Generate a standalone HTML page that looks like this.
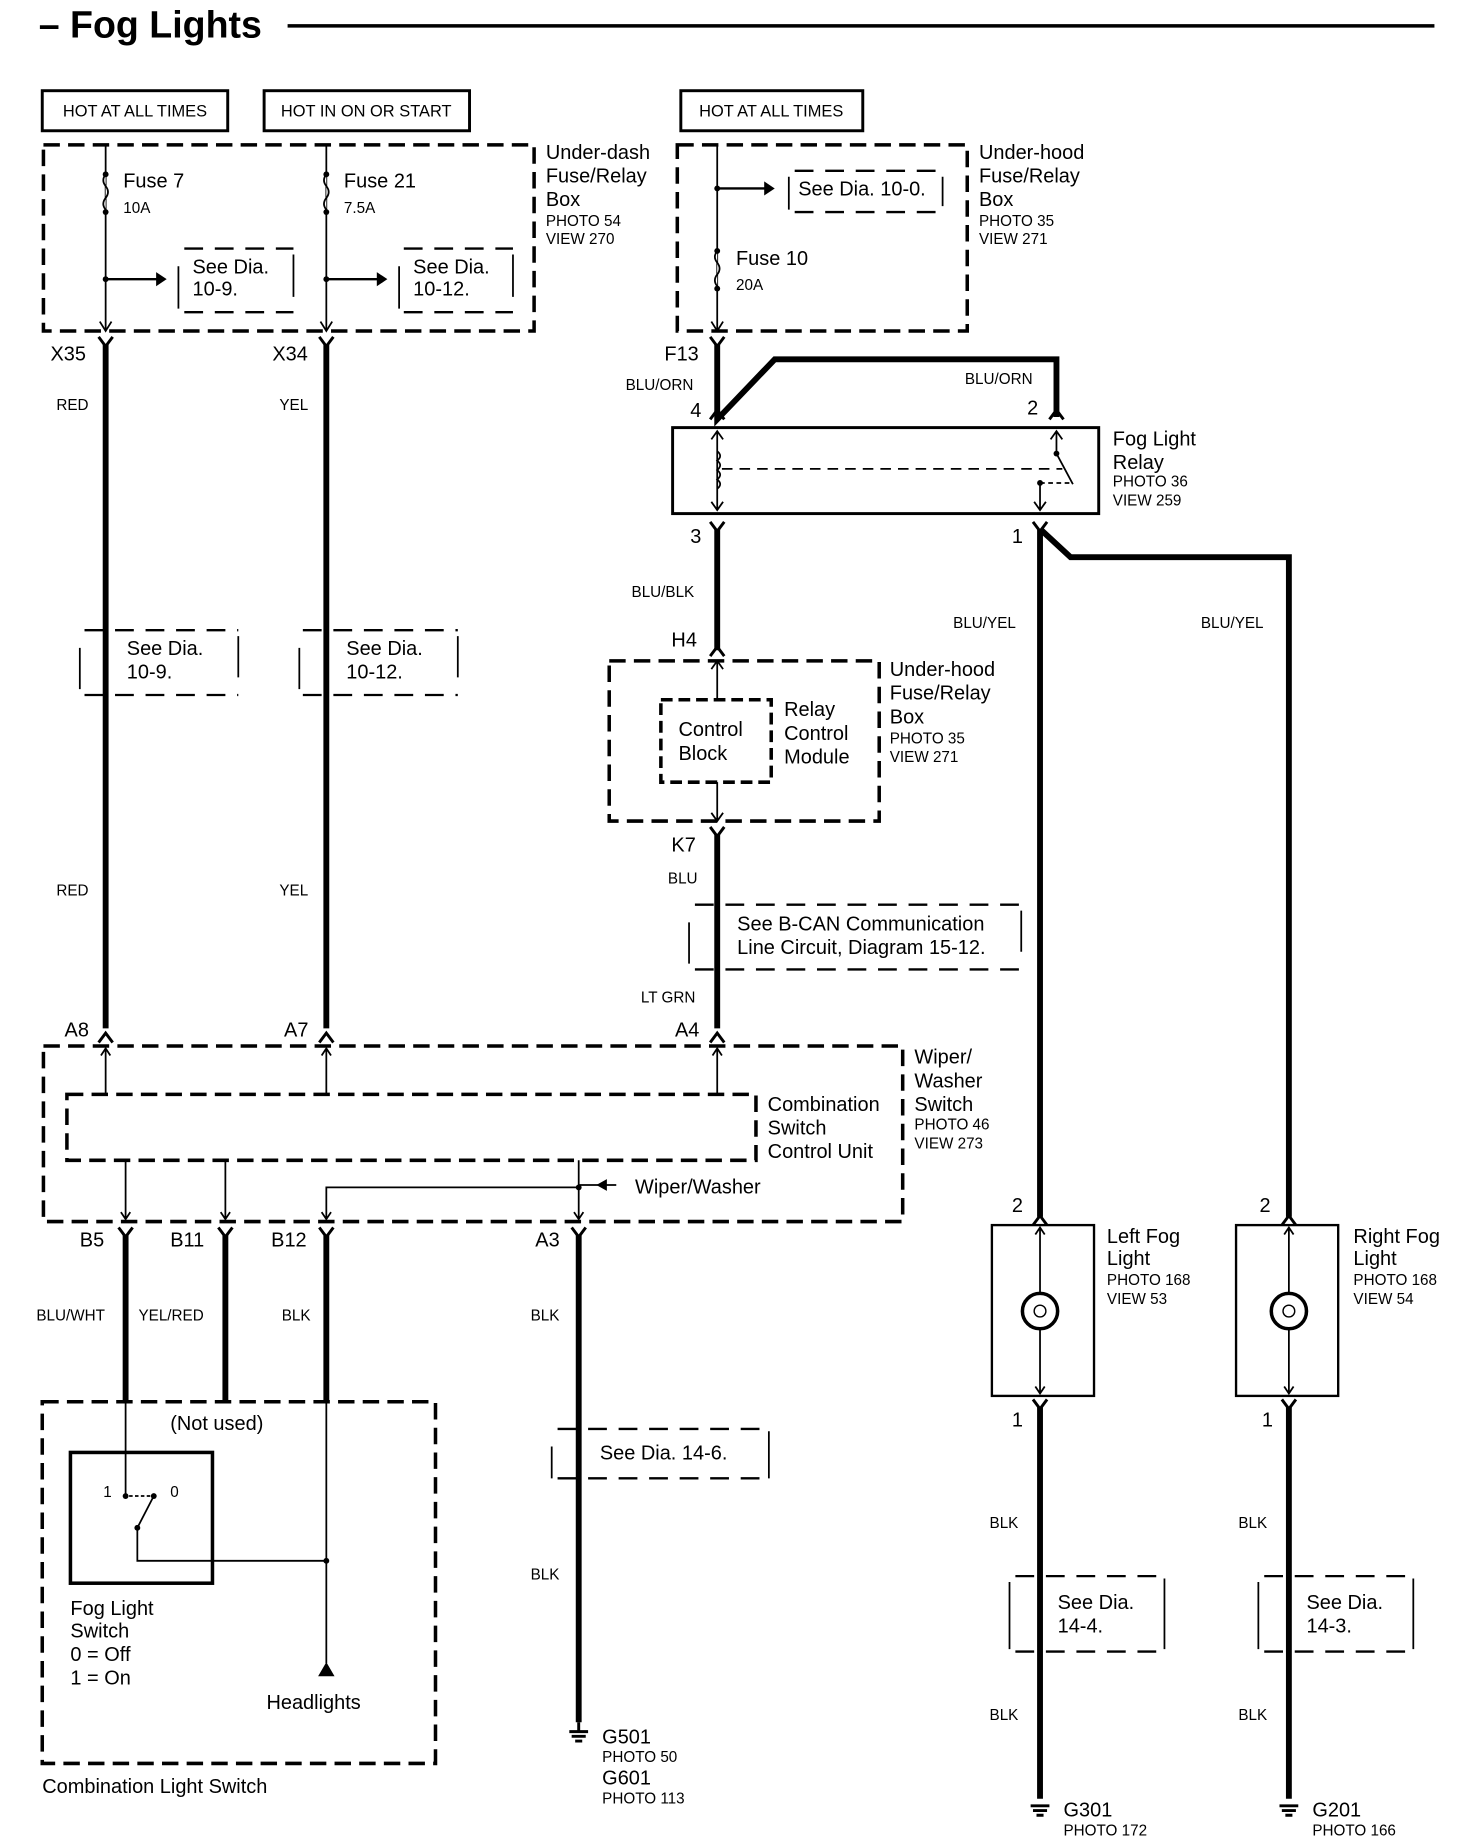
<!DOCTYPE html>
<html><head><meta charset="utf-8"><style>
html,body{margin:0;padding:0;background:#fff}
svg{display:block}
text{font-family:"Liberation Sans",sans-serif;fill:#000}
.l{font-size:17px}.s{font-size:13px}.m{font-size:14px}
.th{stroke:#000;stroke-width:5;fill:none}
.tn{stroke:#000;stroke-width:1.5;fill:none}
.db{stroke:#000;stroke-width:3;fill:none;stroke-dasharray:14 7}
.dd{stroke:#000;stroke-width:2;fill:none;stroke-dasharray:16 10}
.bx{stroke:#000;stroke-width:2.5;fill:none}
.y{stroke:#000;stroke-width:2.5;fill:none}
</style></head><body>
<svg width="1472" height="1840" viewBox="0 0 1254 1562" preserveAspectRatio="none" xmlns="http://www.w3.org/2000/svg">
<text x="33" y="32" style="font-size:32px;font-weight:bold">– Fog Lights</text>
<line x1="245" y1="22" x2="1222" y2="22" stroke="#000" stroke-width="3"/>

<!-- HOT boxes -->
<rect x="36" y="77" width="158" height="34" class="bx"/><text x="115" y="99" class="m" text-anchor="middle">HOT AT ALL TIMES</text>
<rect x="225" y="77" width="175" height="34" class="bx"/><text x="312" y="99" class="m" text-anchor="middle">HOT IN ON OR START</text>
<rect x="580" y="77" width="155" height="34" class="bx"/><text x="657" y="99" class="m" text-anchor="middle">HOT AT ALL TIMES</text>

<!-- Under-dash box -->
<rect x="37" y="123" width="418" height="158" class="db"/>
<line x1="90" y1="123" x2="90" y2="281" class="tn"/><line x1="278" y1="123" x2="278" y2="281" class="tn"/>
<path d="M90 148 q-4 5 0 10 q4 5 0 10 q-4 5 0 10" fill="#fff" stroke="#000" stroke-width="1.5"/>
<path d="M278 148 q-4 5 0 10 q4 5 0 10 q-4 5 0 10" fill="#fff" stroke="#000" stroke-width="1.5"/>
<circle cx="90" cy="148" r="2.5"/><circle cx="90" cy="180" r="2.5"/><circle cx="278" cy="148" r="2.5"/><circle cx="278" cy="180" r="2.5"/>
<text x="105" y="159" class="l">Fuse 7</text><text x="105" y="181" class="s">10A</text>
<text x="293" y="159" class="l">Fuse 21</text><text x="293" y="181" class="s">7.5A</text>
<circle cx="90" cy="237" r="2.5"/><line x1="90" y1="237" x2="134" y2="237" stroke="#000" stroke-width="2"/><path d="M133 231 L142 237 L133 243Z"/>
<circle cx="278" cy="237" r="2.5"/><line x1="278" y1="237" x2="322" y2="237" stroke="#000" stroke-width="2"/><path d="M321 231 L330 237 L321 243Z"/>
<path d="M157 211 H250 M157 265 H250" class="dd"/><path d="M152 226 V262 M250 216 V252" class="tn"/>
<text x="164" y="232" class="l">See Dia.</text><text x="164" y="251" class="l">10-9.</text>
<path d="M344 211 H437 M344 265 H437" class="dd"/><path d="M340 226 V262 M437 216 V252" class="tn"/>
<text x="352" y="232" class="l">See Dia.</text><text x="352" y="251" class="l">10-12.</text>
<path d="M85 273 L90 281 L95 273 M273 273 L278 281 L283 273" class="tn"/>
<text x="465" y="135" class="l">Under-dash</text><text x="465" y="155" class="l">Fuse/Relay</text><text x="465" y="175" class="l">Box</text>
<text x="465" y="192" class="s">PHOTO 54</text><text x="465" y="207" class="s">VIEW 270</text>

<!-- Under-hood box top -->
<rect x="577" y="123" width="247" height="158" class="db"/>
<line x1="611" y1="123" x2="611" y2="281" class="tn"/>
<circle cx="611" cy="160" r="2.5"/><line x1="611" y1="160" x2="652" y2="160" stroke="#000" stroke-width="2"/><path d="M651 154 L660 160 L651 166Z"/>
<path d="M677 145 H803 M677 180 H803" class="dd"/><path d="M672 150 V178 M803 150 V175" class="tn"/>
<text x="680" y="166" class="l">See Dia. 10-0.</text>
<path d="M611 213 q-4 5 0 10 q4 5 0 10 q-4 5 0 10" fill="#fff" stroke="#000" stroke-width="1.5"/>
<circle cx="611" cy="213" r="2.5"/><circle cx="611" cy="245" r="2.5"/>
<text x="627" y="225" class="l">Fuse 10</text><text x="627" y="246" class="s">20A</text>
<path d="M606 273 L611 281 L616 273" class="tn"/>
<text x="834" y="135" class="l">Under-hood</text><text x="834" y="155" class="l">Fuse/Relay</text><text x="834" y="175" class="l">Box</text>
<text x="834" y="192" class="s">PHOTO 35</text><text x="834" y="207" class="s">VIEW 271</text>

<!-- upper connectors -->
<path d="M84 286 L90 294 L96 286 M272 286 L278 294 L284 286 M605 286 L611 294 L617 286" class="y"/>
<text x="43" y="306" class="l">X35</text><text x="232" y="306" class="l">X34</text><text x="566" y="306" class="l">F13</text>
<line x1="90" y1="292" x2="90" y2="873" class="th"/><line x1="278" y1="292" x2="278" y2="873" class="th"/>
<text x="48" y="348" class="s">RED</text><text x="238" y="348" class="s">YEL</text>
<text x="48" y="760" class="s">RED</text><text x="238" y="760" class="s">YEL</text>
<path d="M72 535 H203 M72 590 H203" class="dd"/><path d="M68 550 V585 M203 540 V575" class="tn"/>
<text x="108" y="556" class="l">See Dia.</text><text x="108" y="576" class="l">10-9.</text>
<path d="M258 535 H390 M258 590 H390" class="dd"/><path d="M255 550 V585 M390 540 V575" class="tn"/>
<text x="295" y="556" class="l">See Dia.</text><text x="295" y="576" class="l">10-12.</text>

<!-- relay -->
<path d="M611 292 V356 L660 305 H900 V354" class="th"/>
<text x="533" y="331" class="s">BLU/ORN</text><text x="822" y="326" class="s">BLU/ORN</text>
<text x="588" y="354" class="l">4</text><text x="875" y="352" class="l">2</text>
<path d="M605 356 L611 348 L617 356 M894 356 L900 348 L906 356" class="y"/>
<rect x="573" y="363" width="363" height="73" class="bx"/>
<path d="M611 366 V433 M606 373 L611 366 L616 373 M606 426 L611 433 L616 426" class="tn"/>
<path d="M611 383 q5 4 0 8 q5 4 0 8 q5 4 0 8 q5 4 0 8" fill="none" stroke="#000" stroke-width="1.5"/>
<line x1="615" y1="398" x2="905" y2="398" class="tn" stroke-dasharray="9 6"/>
<path d="M900 366 V385 L914 411 M886 410 V433 M881 426 L886 433 L891 426 M895 373 L900 366 L905 373" class="tn"/>
<circle cx="900" cy="385" r="2.5"/><circle cx="886" cy="410" r="2.5"/><line x1="886" y1="410" x2="912" y2="410" class="tn" stroke-dasharray="4 3"/>
<text x="948" y="378" class="l">Fog Light</text><text x="948" y="398" class="l">Relay</text>
<text x="948" y="413" class="s">PHOTO 36</text><text x="948" y="429" class="s">VIEW 259</text>
<path d="M605 443 L611 451 L617 443 M880 443 L886 451 L892 443" class="y"/>
<text x="588" y="461" class="l">3</text><text x="862" y="461" class="l">1</text>
<line x1="611" y1="449" x2="611" y2="552" class="th"/>
<text x="538" y="507" class="s">BLU/BLK</text>
<path d="M886 449 V1033 M886 449 L912 473 H1098 V1033" class="th"/>
<text x="812" y="533" class="s">BLU/YEL</text><text x="1023" y="533" class="s">BLU/YEL</text>
<text x="572" y="549" class="l">H4</text>
<path d="M605 557 L611 549 L617 557" class="y"/>

<!-- relay control module -->
<rect x="519" y="561" width="230" height="136" class="db"/>
<rect x="563" y="594" width="94" height="70" class="db" style="stroke-dasharray:10 5"/>
<path d="M611 561 V594 M611 664 V697 M606 568 L611 561 L616 568 M606 690 L611 697 L616 690" class="tn"/>
<text x="578" y="625" class="l">Control</text><text x="578" y="645" class="l">Block</text>
<text x="668" y="608" class="l">Relay</text><text x="668" y="628" class="l">Control</text><text x="668" y="648" class="l">Module</text>
<text x="758" y="574" class="l">Under-hood</text><text x="758" y="594" class="l">Fuse/Relay</text><text x="758" y="614" class="l">Box</text>
<text x="758" y="631" class="s">PHOTO 35</text><text x="758" y="647" class="s">VIEW 271</text>
<text x="572" y="723" class="l">K7</text>
<path d="M605 702 L611 710 L617 702" class="y"/>
<line x1="611" y1="708" x2="611" y2="873" class="th"/>
<text x="569" y="750" class="s">BLU</text>
<path d="M592 768 H870 M592 823 H870" class="dd"/><path d="M587 783 V818 M870 773 V808" class="tn"/>
<text x="628" y="790" class="l">See B-CAN Communication</text><text x="628" y="810" class="l">Line Circuit, Diagram 15-12.</text>
<text x="546" y="851" class="s">LT GRN</text>
<text x="55" y="880" class="l">A8</text><text x="242" y="880" class="l">A7</text><text x="575" y="880" class="l">A4</text>
<path d="M84 885 L90 877 L96 885 M272 885 L278 877 L284 885 M605 885 L611 877 L617 885" class="y"/>

<!-- wiper/washer box -->
<rect x="37" y="888" width="732" height="149" class="db"/>
<rect x="57" y="929" width="587" height="56" class="db"/>
<path d="M90 890 V929 M278 890 V929 M611 890 V929 M86 896 L90 890 L94 896 M274 896 L278 890 L282 896 M607 896 L611 890 L615 896" class="tn"/>
<text x="654" y="943" class="l">Combination</text><text x="654" y="963" class="l">Switch</text><text x="654" y="983" class="l">Control Unit</text>
<text x="779" y="903" class="l">Wiper/</text><text x="779" y="923" class="l">Washer</text><text x="779" y="943" class="l">Switch</text>
<text x="779" y="959" class="s">PHOTO 46</text><text x="779" y="975" class="s">VIEW 273</text>
<path d="M107 985 V1035 M192 985 V1035 M493 985 V1035 M278 1035 V1008 H493 M103 1029 L107 1035 L111 1029 M188 1029 L192 1035 L196 1029 M274 1029 L278 1035 L282 1029 M489 1029 L493 1035 L497 1029" class="tn"/>
<circle cx="493" cy="1008" r="2.5"/>
<line x1="493" y1="1006" x2="525" y2="1006" class="tn"/><path d="M517 1001 L508 1006 L517 1011Z"/>
<text x="541" y="1013" class="l">Wiper/Washer</text>
<path d="M101 1042 L107 1050 L113 1042 M186 1042 L192 1050 L198 1042 M272 1042 L278 1050 L284 1042 M487 1042 L493 1050 L499 1042" class="y"/>
<text x="68" y="1058" class="l">B5</text><text x="145" y="1058" class="l">B11</text><text x="231" y="1058" class="l">B12</text><text x="456" y="1058" class="l">A3</text>
<path d="M107 1048 V1190 M192 1048 V1190 M278 1048 V1190 M493 1048 V1462" class="th"/>
<text x="31" y="1121" class="s">BLU/WHT</text><text x="118" y="1121" class="s">YEL/RED</text><text x="240" y="1121" class="s">BLK</text><text x="452" y="1121" class="s">BLK</text>

<!-- combination light switch -->
<rect x="36" y="1190" width="335" height="307" class="db"/>
<text x="145" y="1214" class="l">(Not used)</text>
<rect x="60" y="1233" width="121" height="111" stroke="#000" stroke-width="3" fill="none"/>
<path d="M107 1190 V1270 M278 1190 V1412 M117 1297 V1325 H278 M117 1297 L131 1270" class="tn"/>
<circle cx="107" cy="1270" r="2.5"/><circle cx="131" cy="1270" r="2.5"/><circle cx="117" cy="1297" r="2.5"/><circle cx="278" cy="1325" r="2.5"/>
<line x1="110" y1="1270" x2="128" y2="1270" class="tn" stroke-dasharray="3 2"/>
<text x="88" y="1271" class="s">1</text><text x="145" y="1271" class="s">0</text>
<path d="M271 1423 L278 1411 L285 1423Z"/>
<text x="60" y="1371" class="l">Fog Light</text><text x="60" y="1390" class="l">Switch</text><text x="60" y="1410" class="l">0 = Off</text><text x="60" y="1430" class="l">1 = On</text>
<text x="227" y="1451" class="l">Headlights</text>
<text x="36" y="1522" class="l">Combination Light Switch</text>

<path d="M475 1213 H655 M475 1255 H655" class="dd"/><path d="M470 1228 V1255 M655 1215 V1255" class="tn"/>
<text x="511" y="1239" class="l">See Dia. 14-6.</text>
<text x="452" y="1341" class="s">BLK</text>
<path d="M493 1462 V1470 M485 1470 H501 M487 1474 H499 M490 1478 H496" stroke="#000" stroke-width="2.5"/>
<text x="513" y="1480" class="l">G501</text><text x="513" y="1496" class="s">PHOTO 50</text>
<text x="513" y="1515" class="l">G601</text><text x="513" y="1531" class="s">PHOTO 113</text>

<!-- fog lights -->
<path d="M880 1040 L886 1032 L892 1040 M1092 1040 L1098 1032 L1104 1040" class="y"/>
<text x="862" y="1029" class="l">2</text><text x="1073" y="1029" class="l">2</text>
<rect x="845" y="1040" width="87" height="145" stroke="#000" stroke-width="2" fill="none"/>
<rect x="1053" y="1040" width="87" height="145" stroke="#000" stroke-width="2" fill="none"/>
<path d="M886 1042 V1183 M882 1048 L886 1042 L890 1048 M882 1177 L886 1183 L890 1177 M1098 1042 V1183 M1094 1048 L1098 1042 L1102 1048 M1094 1177 L1098 1183 L1102 1177" class="tn"/>
<circle cx="886" cy="1113" r="15" fill="#fff" stroke="#000" stroke-width="3"/><circle cx="886" cy="1113" r="5" fill="none" stroke="#000" stroke-width="1.2"/>
<circle cx="1098" cy="1113" r="15" fill="#fff" stroke="#000" stroke-width="3"/><circle cx="1098" cy="1113" r="5" fill="none" stroke="#000" stroke-width="1.2"/>
<text x="943" y="1055" class="l">Left Fog</text><text x="943" y="1074" class="l">Light</text><text x="943" y="1091" class="s">PHOTO 168</text><text x="943" y="1107" class="s">VIEW 53</text>
<text x="1153" y="1055" class="l">Right Fog</text><text x="1153" y="1074" class="l">Light</text><text x="1153" y="1091" class="s">PHOTO 168</text><text x="1153" y="1107" class="s">VIEW 54</text>
<path d="M880 1188 L886 1196 L892 1188 M1092 1188 L1098 1196 L1104 1188" class="y"/>
<text x="862" y="1211" class="l">1</text><text x="1075" y="1211" class="l">1</text>
<path d="M886 1194 V1527 M1098 1194 V1527" class="th"/>
<text x="843" y="1297" class="s">BLK</text><text x="1055" y="1297" class="s">BLK</text>
<text x="843" y="1460" class="s">BLK</text><text x="1055" y="1460" class="s">BLK</text>
<path d="M865 1338 H992 M865 1402 H992" class="dd"/><path d="M860 1343 V1400 M992 1340 V1400" class="tn"/>
<text x="901" y="1366" class="l">See Dia.</text><text x="901" y="1386" class="l">14-4.</text>
<path d="M1077 1338 H1204 M1077 1402 H1204" class="dd"/><path d="M1072 1343 V1400 M1204 1340 V1400" class="tn"/>
<text x="1113" y="1366" class="l">See Dia.</text><text x="1113" y="1386" class="l">14-3.</text>
<path d="M878 1533 H894 M880 1537 H892 M883 1541 H889 M1090 1533 H1106 M1092 1537 H1104 M1095 1541 H1101" stroke="#000" stroke-width="2.5"/>
<text x="906" y="1542" class="l">G301</text><text x="906" y="1558" class="s">PHOTO 172</text>
<text x="1118" y="1542" class="l">G201</text><text x="1118" y="1558" class="s">PHOTO 166</text>
</svg>
</body></html>
